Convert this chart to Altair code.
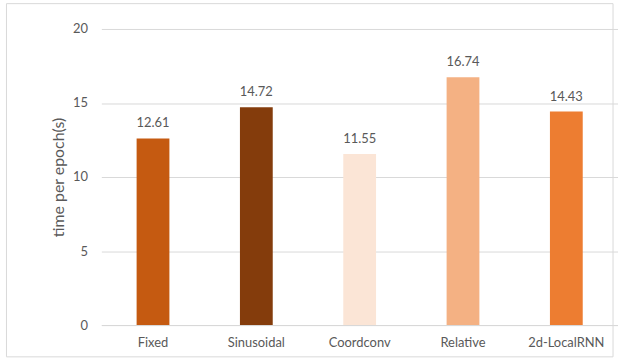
import altair as alt
import pandas as pd

categories = ["Fixed", "Sinusoidal", "Coordconv", "Relative", "2d-LocalRNN"]
values = [12.61, 14.72, 11.55, 16.74, 14.43]
colors = ["#C55A11", "#843C0C", "#FBE5D6", "#F4B183", "#ED7D31"]
labels = ["12.61", "14.72", "11.55", "16.74", "14.43"]

df = pd.DataFrame({"cat": categories, "val": values, "lab": labels, "col": colors})

FONT = "Lato"
TXT = "#595959"
GRID = "#D9D9D9"

x = alt.X("cat:N", sort=categories, title=None,
          scale=alt.Scale(paddingInner=0.68, paddingOuter=0.34),
          axis=alt.Axis(labelAngle=0, labelFont=FONT, labelFontSize=13, labelColor=TXT,
                        labelPadding=12, ticks=False, domainColor=GRID, domainWidth=1))
y = alt.Y("val:Q", title="time per epoch(s)",
          scale=alt.Scale(domain=[0, 20], nice=False),
          axis=alt.Axis(values=[0, 5, 10, 15, 20], labelFont=FONT, labelFontSize=13,
                        labelColor=TXT, labelPadding=14, ticks=False, domain=False,
                        gridColor=GRID, gridWidth=1, titleFont=FONT, titleFontSize=16,
                        titleFontWeight="normal", titleColor=TXT, titlePadding=6))

bars = alt.Chart(df).mark_bar(size=33).encode(
    x=x, y=y, color=alt.Color("col:N", scale=None)
)
text = alt.Chart(df).mark_text(font=FONT, fontSize=13, color=TXT, baseline="alphabetic", dy=-11).encode(
    x=alt.X("cat:N", sort=categories), y="val:Q", text="lab:N"
)
frame = alt.Chart(df.head(1)).mark_rect(fill=None, stroke=GRID, strokeWidth=1).encode(
    x=alt.value(-95.5), x2=alt.value(515), y=alt.value(-25.5), y2=alt.value(330)
)

chart = alt.layer(frame, bars, text).properties(
    width=520, height=298,
    padding={"left": 102, "top": 28, "right": 0, "bottom": 34},
    autosize=alt.AutoSizeParams(type="none"),
    background="white",
).configure_view(stroke=None)

chart.save("out.html", embed_options={"renderer": "svg", "actions": False})
